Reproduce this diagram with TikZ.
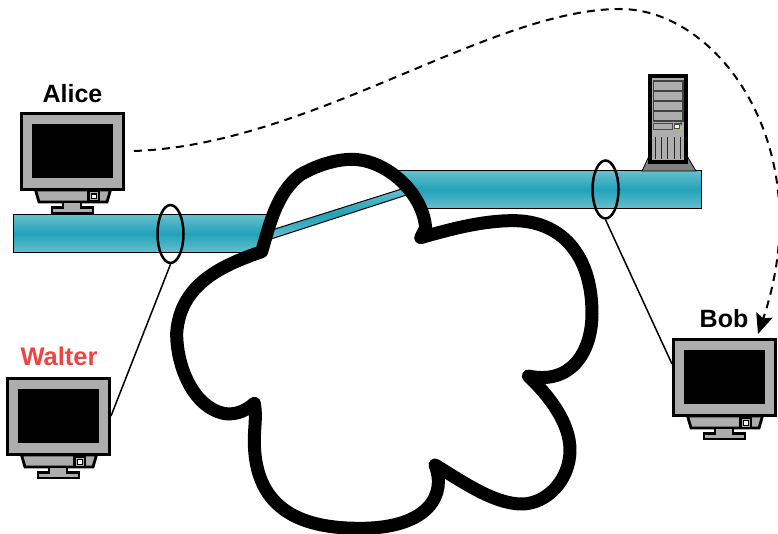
\documentclass[tikz,border=0pt]{standalone}
\usepackage{fontspec}
\setmainfont{Liberation Sans}
\usetikzlibrary{shapes.geometric,arrows.meta}
\definecolor{grayA}{HTML}{ADADAD}
\definecolor{grayB}{HTML}{808080}
\definecolor{pipeEdge}{HTML}{66BFCE}
\definecolor{pipeMid}{HTML}{22A2B9}
\definecolor{waltercol}{HTML}{EE4444}
\tikzset{
  pipe/.style={draw=black,line width=1pt,top color=pipeEdge,bottom color=pipeEdge,middle color=pipeMid},
  tap/.style={draw=black,line width=2.5pt,ellipse,minimum width=26pt,minimum height=58pt,inner sep=0pt},
  tapline/.style={draw=black,line width=1.5pt},
  who/.style={font=\bfseries\fontsize{25}{26}\selectfont,inner sep=0pt},
  monpart/.style={draw=black,line width=2.8pt,fill=grayA,line join=miter},
  cloudline/.style={line width=13pt,line join=round,line cap=round},
  monitor/.pic={
    \path[monpart] (15.5,78) -- (19,90) -- (87,90) -- (90.5,78) -- cycle;
    \path[monpart] (32,101) -- (32,95.5) -- (43,95.5) -- (43,90) -- (61,90) -- (61,95.5) -- (73,95.5) -- (73,101) -- cycle;
    \path[monpart] (1.5,1.5) rectangle (103.5,77.5);
    \fill[black] (12,12) rectangle (93,66);
    \fill[black] (67,78) rectangle (80,91);
    \fill[grayA] (69.5,80.5) rectangle (78,88.5);
    \fill[black] (70.5,81.5) rectangle (76.5,87.5);
    \fill[white] (72,83) rectangle (75.5,86.5);
  },
}
\begin{document}
\begin{tikzpicture}[x=1pt,y=-1pt]
\useasboundingbox (0,0) rectangle (778,534);
% pipes
\path[pipe] (13,215) rectangle (290,252.5);
\path[pipe] (380,171) rectangle (701,208.5);
% server
\path[draw=black,line width=.8pt,fill=grayB] (642,171) -- (649,156) -- (687,156) -- (696,171) -- cycle;
\path[draw=black,line width=3.6pt,fill=grayA] (650,76) rectangle (686,162);
\foreach \yy in {81,91,101,111}
  \draw[black!75,line width=1.1pt] (653.5,\yy) rectangle (683,\yy+10);
\draw[black!70,line width=.8pt] (653.5,123) rectangle (672,129);
\fill[black!70] (673.5,123) rectangle (679.5,129.5);
\fill[white] (674.5,125) rectangle (678.5,128.5);
\fill[green!45!black] (681,123.6) circle (1.4);
\fill[yellow!80!black] (681,128) circle (1.4);
\foreach \xx in {655.3,661.6,667.8,674,680.3}
  \draw[black!85,line width=.9pt] (\xx,137) -- (\xx,159);
% monitors
\pic at (20,112) {monitor};
\pic at (6,377) {monitor};
\pic at (672,338) {monitor};
% labels
\node[who] (alice) at (72.5,93.5) {Alice};
\node[who,text=waltercol,font=\bfseries\fontsize{25.5}{26}\selectfont] (walter) at (59,356.5) {Walter};
\node[who] (bob) at (724,318.5) {Bob};
% cloud
\begin{scope}[xshift=160pt,yshift=-140pt,x=.33333pt,y=-.33333pt]
\def\cloudpath{(305,335) .. controls (330,250) and (350,160) .. (420,105) .. controls (470,75) and (530,58) .. (575,58) .. controls (680,58) and (790,160) .. (797,265) -- (782,293)
 .. controls (880,265) and (970,242) .. (1060,242) .. controls (1200,242) and (1296,340) .. (1296,520) .. controls (1296,640) and (1230,735) .. (1105,708)
 .. controls (1170,770) and (1230,850) .. (1230,930) .. controls (1230,1020) and (1160,1092) .. (1085,1092) .. controls (1000,1092) and (900,1020) .. (825,975)
 .. controls (860,1060) and (810,1165) .. (600,1165) .. controls (440,1165) and (282,1120) .. (283,900) .. controls (283,860) and (290,830) .. (283,790)
 .. controls (250,820) and (215,825) .. (190,820) .. controls (100,800) and (50,680) .. (50,580) .. controls (60,430) and (190,375) .. (305,335) -- cycle}
\fill[white] \cloudpath;
\path[pipe] (335,270) -- (725,147) -- (740,165) -- (330,298) -- cycle;
\draw[black,cloudline] \cloudpath;
\end{scope}
% taps
\node[tap] (tapL) at (170.5,234) {};
\node[tap] (tapR) at (605.5,189.5) {};
\coordinate (walterEdge) at (111,416);
\coordinate (bobEdge) at (672,364);
\draw[tapline] (tapL.south) -- (walterEdge);
\draw[tapline] (tapR.south) -- (bobEdge);
% dashed message
\coordinate (msgStart) at (134,151);
\coordinate (msgEnd) at (758,334);
\draw[black,line width=2pt,dash pattern=on 8pt off 6pt,-{Stealth[length=20pt,width=17pt,inset=3.5pt]}]
  (msgStart) .. controls (310,145) and (490,9) .. (620,9) .. controls (720,9) and (820,150) .. (msgEnd);
\end{tikzpicture}
\end{document}
